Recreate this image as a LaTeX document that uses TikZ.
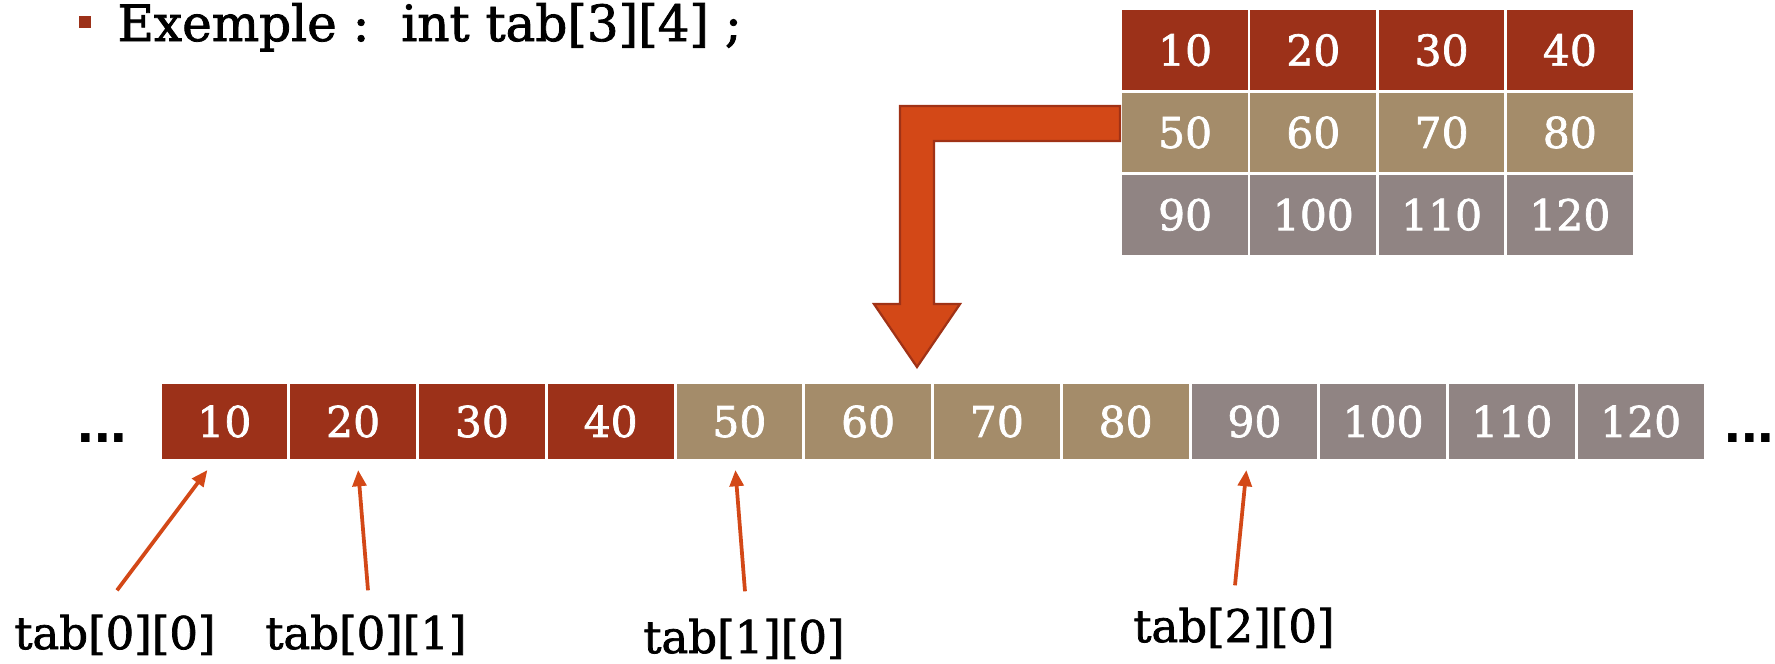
\documentclass[tikz,border=0pt]{standalone}
\usepackage{fontspec}
\setmainfont{DejaVu Serif}[FakeBold=1.6]
\newfontfamily\dotfont{Liberation Sans}
\usetikzlibrary{arrows.meta,calc}
\definecolor{rowA}{RGB}{156,49,25}
\definecolor{rowB}{RGB}{164,140,106}
\definecolor{rowC}{RGB}{144,132,131}
\definecolor{arrowfill}{RGB}{211,72,23}
\definecolor{arrowline}{RGB}{160,50,22}
\tikzset{
  cellbase/.style={draw=white, line width=1.1pt, inner sep=0pt, outer sep=0pt,
    text=white, font=\fontsize{17}{20}\selectfont, minimum width=51.4pt},
  topcell/.style={cellbase, minimum height=32.9pt},
  botcell/.style={cellbase, minimum height=30.8pt},
  lbl/.style={anchor=base, inner sep=0pt, font=\fontsize{18}{21}\selectfont},
  ptr/.style={draw=arrowfill, line width=1.5pt, -{Triangle[length=6.5pt,width=5.5pt]}},
  dots/.style={anchor=base west, inner sep=0pt, font=\dotfont\bfseries\fontsize{24}{28}\selectfont},
  bigarrow/.style={fill=arrowfill, draw=arrowline, line width=0.9pt, line join=miter}
}
\begin{document}
\begin{tikzpicture}[x=0.4pt,y=-0.4pt]
\useasboundingbox (0,0) rectangle (1775,663);
% title
\node[fill=rowA, inner sep=0pt, minimum size=4.6pt] (bullet) at (85,22) {};
\node[anchor=base west, inner sep=0pt, font=\fontsize{20}{23}\selectfont] (title) at (117,41) {Exemple :\ \ int tab[3][4] ;};
% top matrix
\foreach \r/\col in {0/rowA,1/rowB,2/rowC}{
  \foreach \c in {0,1,2,3}{
    \pgfmathtruncatemacro{\v}{(\r*4+\c+1)*10}
    \node[topcell, fill=\col] (m\r\c) at ({1121+64.1+\c*128.25},{9+41.15+\r*82.3}) {\v};
  }
}
% big bent arrow
\draw[bigarrow] (1120,106) -- (900,106) -- (900,304) -- (874,304) -- (917,367)
  -- (960,304) -- (934,304) -- (934,141) -- (1120,141) -- cycle;
% bottom row
\foreach \i/\col in {1/rowA,2/rowA,3/rowA,4/rowA,5/rowB,6/rowB,7/rowB,8/rowB,9/rowC,10/rowC,11/rowC,12/rowC}{
  \pgfmathtruncatemacro{\v}{\i*10}
  \node[botcell, fill=\col] (b\i) at ({160+64.4+(\i-1)*128.75},421.5) {\v};
}
\node[dots] (dl) at (77,442) {...};
\node[dots] (dr) at (1724,442) {...};
% labels
\node[lbl] (l00) at (115,649) {tab[0][0]};
\node[lbl] (l01) at (366,649) {tab[0][1]};
\node[lbl] (l10) at (744,653) {tab[1][0]};
\node[lbl] (l20) at (1234,642) {tab[2][0]};
% pointers
\draw[ptr] ($(l00.north)+(2,-24)$) -- ($(b1.south)+(-17,10)$);
\draw[ptr] ($(l01.north)+(2,-24)$) -- ($(b2.south)+(5,10)$);
\draw[ptr] ($(l10.north)+(1,-27)$) -- ($(b5.south)+(-4,10)$);
\draw[ptr] ($(l20.north)+(1,-22)$) -- ($(b9.south)+(-8,10)$);
\end{tikzpicture}
\end{document}
